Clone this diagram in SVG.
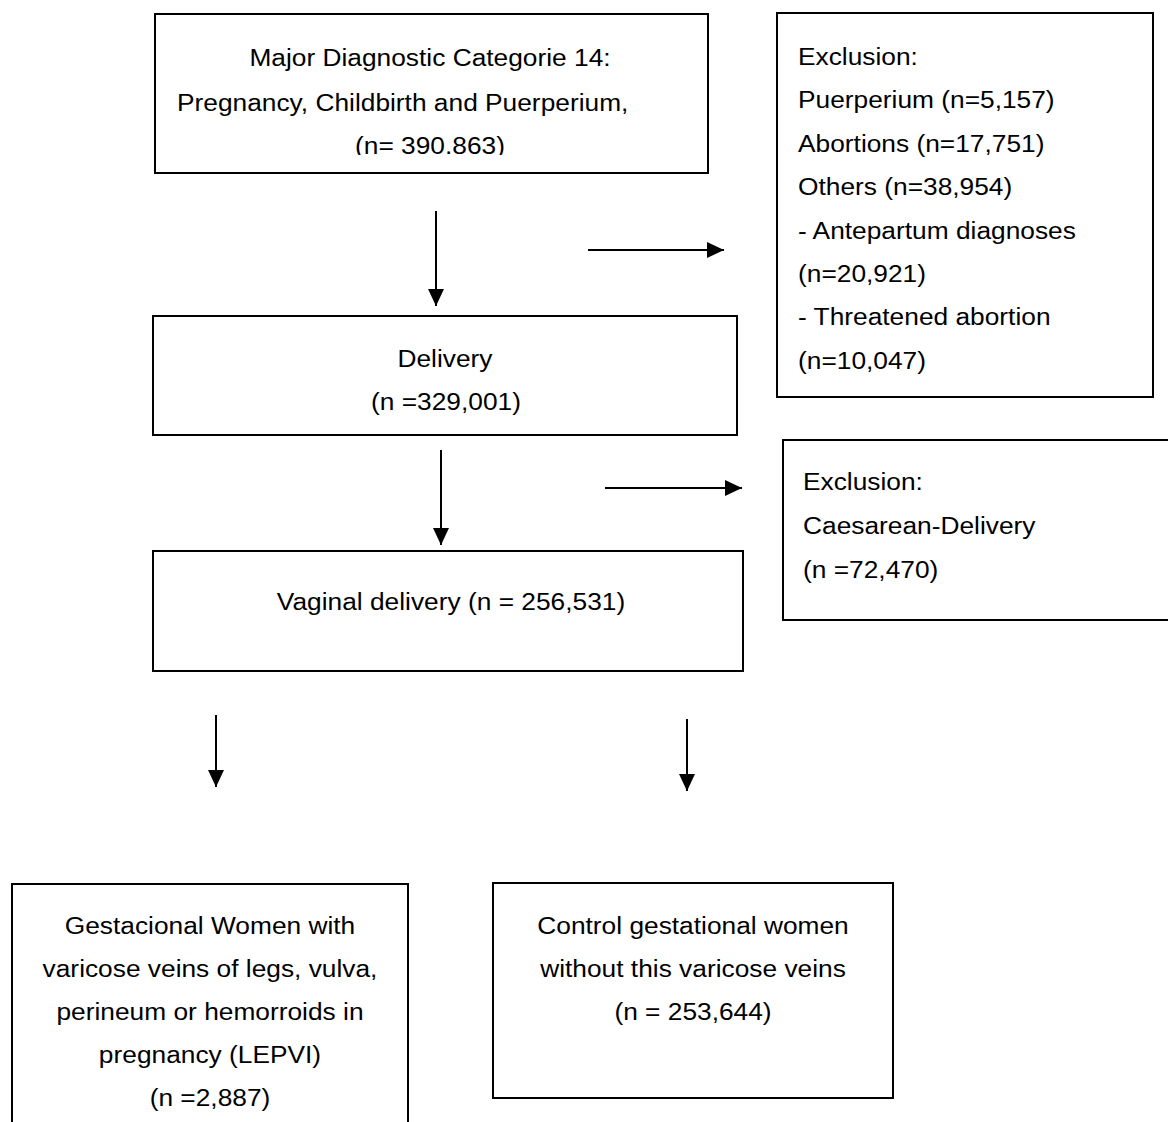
<svg xmlns="http://www.w3.org/2000/svg" width="1168" height="1122" viewBox="0 0 1168 1122">
<style>
.box{fill:#fff;stroke:#000;stroke-width:2}
.t{font-family:"Liberation Sans",Arial,Helvetica,sans-serif;font-size:23.5px;fill:#000}
.c{text-anchor:middle}
.ln{stroke:#000;stroke-width:2;fill:none;marker-end:url(#ah)}
</style>
<defs>
<marker id="ah" viewBox="0 0 17 16" refX="17" refY="8" markerWidth="17" markerHeight="16" markerUnits="userSpaceOnUse" orient="auto">
<path d="M0,0 L17,8 L0,16 Z" fill="#000"/>
</marker>
<clipPath id="clip1"><rect x="155" y="14" width="553" height="141"/></clipPath>
</defs>
<rect width="1168" height="1122" fill="#fff"/>

<g id="connectors">
<path class="ln" d="M436,211 V306"/>
<path class="ln" d="M588,250 H724"/>
<path class="ln" d="M441,450 V545"/>
<path class="ln" d="M605,488 H742"/>
<path class="ln" d="M216,715 V787"/>
<path class="ln" d="M687,719 V791"/>
</g>

<g id="mdc14">
<rect class="box" x="155" y="14" width="553" height="159"/>
<g clip-path="url(#clip1)">
<text class="t c" transform="translate(430,66) scale(1.12,1)">Major Diagnostic Categorie 14:</text>
<text class="t" transform="translate(177,111) scale(1.12,1)">Pregnancy, Childbirth and Puerperium,</text>
<text class="t c" transform="translate(430,154) scale(1.12,1)">(n= 390.863)</text>
</g>
</g>

<g id="exclusion1">
<rect class="box" x="777" y="13" width="376" height="384"/>
<text class="t" transform="translate(798,65) scale(1.12,1)">Exclusion:</text>
<text class="t" transform="translate(798,108.4) scale(1.12,1)">Puerperium (n=5,157)</text>
<text class="t" transform="translate(798,151.8) scale(1.12,1)">Abortions (n=17,751)</text>
<text class="t" transform="translate(798,195.2) scale(1.12,1)">Others (n=38,954)</text>
<text class="t" transform="translate(798,238.6) scale(1.12,1)">- Antepartum diagnoses</text>
<text class="t" transform="translate(798,282) scale(1.12,1)">(n=20,921)</text>
<text class="t" transform="translate(798,325.4) scale(1.12,1)">- Threatened abortion</text>
<text class="t" transform="translate(798,368.8) scale(1.12,1)">(n=10,047)</text>
</g>

<g id="delivery">
<rect class="box" x="153" y="316" width="584" height="119"/>
<text class="t c" transform="translate(445,367) scale(1.12,1)">Delivery</text>
<text class="t c" transform="translate(446,410) scale(1.12,1)">(n =329,001)</text>
</g>

<g id="exclusion2">
<rect class="box" x="783" y="440" width="400" height="180"/>
<text class="t" transform="translate(803,490) scale(1.12,1)">Exclusion:</text>
<text class="t" transform="translate(803,534) scale(1.12,1)">Caesarean-Delivery</text>
<text class="t" transform="translate(803,578) scale(1.12,1)">(n =72,470)</text>
</g>

<g id="vaginal">
<rect class="box" x="153" y="551" width="590" height="120"/>
<text class="t c" transform="translate(451,610) scale(1.12,1)">Vaginal delivery (n = 256,531)</text>
</g>

<g id="lepvi">
<rect class="box" x="12" y="884" width="396" height="260"/>
<text class="t c" transform="translate(210,934) scale(1.12,1)">Gestacional Women with</text>
<text class="t c" transform="translate(210,977) scale(1.12,1)">varicose veins of legs, vulva,</text>
<text class="t c" transform="translate(210,1020) scale(1.12,1)">perineum or hemorroids in</text>
<text class="t c" transform="translate(210,1063) scale(1.12,1)">pregnancy (LEPVI)</text>
<text class="t c" transform="translate(210,1106) scale(1.12,1)">(n =2,887)</text>
</g>

<g id="control">
<rect class="box" x="493" y="883" width="400" height="215"/>
<text class="t c" transform="translate(693,934) scale(1.12,1)">Control gestational women</text>
<text class="t c" transform="translate(693,977) scale(1.12,1)">without this varicose veins</text>
<text class="t c" transform="translate(693,1020) scale(1.12,1)">(n = 253,644)</text>
</g>
</svg>
